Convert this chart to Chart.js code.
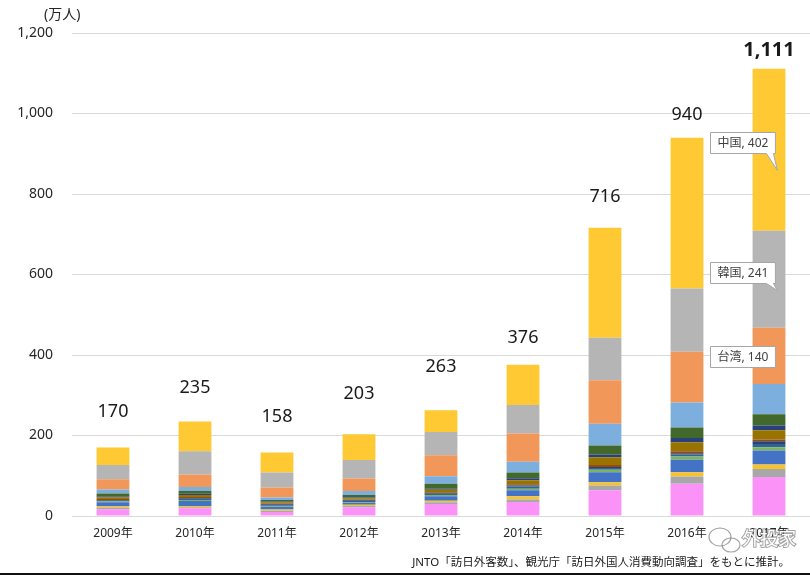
<!DOCTYPE html>
<html>
<head>
<meta charset="utf-8">
<script src="https://cdn.jsdelivr.net/npm/chart.js@4.4.1/dist/chart.umd.min.js"></script>
<style>
  html, body { margin: 0; padding: 0; background: #fff; }
  #wrap { width: 810px; height: 575px; position: relative; }
</style>
</head>
<body>
<div id="wrap"><canvas id="chart" width="810" height="575"></canvas></div>
<script>
// categories
const years = ['2009年', '2010年', '2011年', '2012年', '2013年', '2014年', '2015年', '2016年', '2017年'];
const yTicks = [0, 200, 400, 600, 800, 1000, 1200];

// stacked series, bottom to top (万人)
const otherPink  = [17, 19, 10, 22, 30, 35, 64, 80, 97];
const greySmall  = [4, 3, 3, 3, 4, 6, 12, 18, 20];
const yellowSmall = [4, 3, 3, 3, 4, 8, 8, 11, 11];
const blueSeg    = [9, 12, 7, 5, 11, 15, 25, 31, 35];
const greenSeg   = [2, 3, 2, 2, 3, 4, 6, 8, 8];
const tealSeg    = [2, 3, 2, 2, 3, 5, 4, 5, 8];
const navySeg    = [2, 2, 2, 2, 2, 3, 3, 3, 7];
const brownSeg   = [2, 2, 2, 2, 2, 3, 5, 5, 4];
const oliveSeg   = [4, 5, 3, 3, 6, 10, 19, 22, 23];
const navySeg2   = [2, 3, 2, 2, 3, 5, 7, 11, 12];
const darkGreen  = [8, 7, 4, 6, 12, 14, 22, 26, 28];
const lightBlue  = [10, 10, 6, 10, 19, 27, 54, 62, 75];
const taiwan     = [25, 31, 25, 31, 52, 70, 108, 126, 140];
const korea      = [36, 58, 37, 46, 58, 71, 106, 157, 241];
const china      = [43, 74, 50, 64, 54, 100, 273, 375, 402];

const seriesData = [otherPink, greySmall, yellowSmall, blueSeg, greenSeg, tealSeg, navySeg, brownSeg,
                    oliveSeg, navySeg2, darkGreen, lightBlue, taiwan, korea, china];
const seriesNames = ['その他', '系列2', '系列3', '系列4', '系列5', '系列6', '系列7', '系列8',
                     '系列9', '系列10', '系列11', '系列12', '台湾', '韓国', '中国'];
const seriesColors = ['#FA92F7', '#A8A8A8', '#F7C230', '#4472C4', '#7BB363', '#2E6496', '#264478', '#9E480E',
                      '#997300', '#27427A', '#43682B', '#7CAFDD', '#F1975A', '#B5B5B5', '#FFC933'];

// how far each total sits above its bar (px)
const totalLift = [36, 34, 36, 40, 43, 27, 31, 23, 19];
// callouts on the last bar: dataset index, vertical nudge, tail length
const callouts = [
  { ds: 14, dy: -7, tail: 17 },
  { ds: 13, dy: -7, tail: 7 },
  { ds: 12, dy: 1, tail: 0 }
];

const cjk = "'Noto Sans', 'Noto Sans CJK JP', sans-serif";

const datasets = seriesData.map((d, i) => ({
  label: seriesNames[i],
  data: d,
  backgroundColor: seriesColors[i],
  borderWidth: 0,
  barPercentage: 0.4,
  categoryPercentage: 1.0
}));

const overlay = {
  id: 'overlay',
  afterDatasetsDraw(chart) {
    const ctx = chart.ctx;
    const topMeta = chart.getDatasetMeta(seriesData.length - 1);
    ctx.save();
    ctx.textAlign = 'center';
    ctx.textBaseline = 'middle';
    ctx.fillStyle = '#1a1a1a';
    years.forEach((y, i) => {
      const total = seriesData.reduce((s, arr) => s + arr[i], 0);
      const bar = topMeta.data[i];
      const last = i === years.length - 1;
      ctx.font = (last ? 'bold 20px ' : '18px ') + cjk;
      ctx.fillText(total.toLocaleString('en-US'), bar.x, bar.y - totalLift[i]);
    });

    // callout boxes
    const n = years.length - 1;
    ctx.font = '12px ' + cjk;
    callouts.forEach(c => {
      const el = chart.getDatasetMeta(c.ds).data[n];
      const text = seriesNames[c.ds] + ', ' + seriesData[c.ds][n];
      const w = ctx.measureText(text).width + 14;
      const h = 21;
      const left = Math.round(el.x - el.width / 2 - 43) + 0.5;
      const cy = (el.y + el.base) / 2 + c.dy;
      const top = Math.round(cy - h / 2) + 0.5;
      ctx.beginPath();
      ctx.moveTo(left, top);
      ctx.lineTo(left + w, top);
      ctx.lineTo(left + w, top + h);
      if (c.tail > 0) {
        ctx.lineTo(left + w - 2, top + h);
        ctx.lineTo(left + w + 2, top + h + c.tail);
        ctx.lineTo(left + w - 9, top + h);
      }
      ctx.lineTo(left, top + h);
      ctx.closePath();
      ctx.fillStyle = '#fff';
      ctx.fill();
      ctx.strokeStyle = '#A6A6A6';
      ctx.lineWidth = 1;
      ctx.stroke();
      ctx.fillStyle = '#404040';
      ctx.textAlign = 'left';
      ctx.fillText(text, left + 7, top + h / 2 + 0.5);
    });
    ctx.restore();
  },
  afterDraw(chart) {
    const ctx = chart.ctx;
    ctx.save();
    ctx.fillStyle = '#262626';
    ctx.textBaseline = 'middle';
    ctx.textAlign = 'left';
    ctx.font = '14px ' + cjk;
    ctx.fillText('(万人)', 44, 15);

    ctx.font = '11.5px ' + cjk;
    ctx.textAlign = 'right';
    ctx.fillStyle = '#1a1a1a';
    ctx.fillText('JNTO「訪日外客数」、観光庁「訪日外国人消費動向調査」をもとに推計。', 790, 563);

    // watermark
    ctx.font = '18px ' + cjk;
    ctx.textAlign = 'left';
    ctx.lineWidth = 2;
    ctx.strokeStyle = 'rgba(90,90,90,0.55)';
    ctx.fillStyle = '#fff';
    ctx.strokeText('外投家', 742, 540);
    ctx.fillText('外投家', 742, 540);
    ctx.lineWidth = 1.2;
    ctx.beginPath();
    ctx.ellipse(720, 537, 11, 9, 0, 0, Math.PI * 2);
    ctx.stroke();
    ctx.beginPath();
    ctx.ellipse(731, 545, 9, 7, 0, 0, Math.PI * 2);
    ctx.stroke();

    ctx.fillStyle = '#111';
    ctx.fillRect(0, 573, 810, 2);
    ctx.restore();
  }
};

new Chart(document.getElementById('chart'), {
  type: 'bar',
  data: { labels: years, datasets },
  options: {
    responsive: false,
    animation: false,
    devicePixelRatio: 1,
    layout: { padding: { top: 33, right: 0, bottom: 0, left: 0 } },
    plugins: {
      legend: { display: false },
      tooltip: { enabled: false }
    },
    scales: {
      x: {
        stacked: true,
        grid: { display: false, drawTicks: false },
        border: { display: false },
        ticks: { color: '#262626', font: { size: 12, family: cjk }, padding: 10, maxRotation: 0 },
        afterFit(scale) { scale.height = 59; }
      },
      y: {
        stacked: true,
        min: yTicks[0],
        max: yTicks[yTicks.length - 1],
        afterBuildTicks(scale) { scale.ticks = yTicks.map(v => ({ value: v })); },
        grid: { color: '#D9D9D9', lineWidth: 1, drawTicks: false },
        border: { display: false },
        ticks: {
          color: '#262626',
          font: { size: 14, family: cjk },
          padding: 19,
          callback: v => v.toLocaleString('en-US')
        },
        afterFit(scale) { scale.width = 72; }
      }
    }
  },
  plugins: [overlay]
});
</script>
</body>
</html>
